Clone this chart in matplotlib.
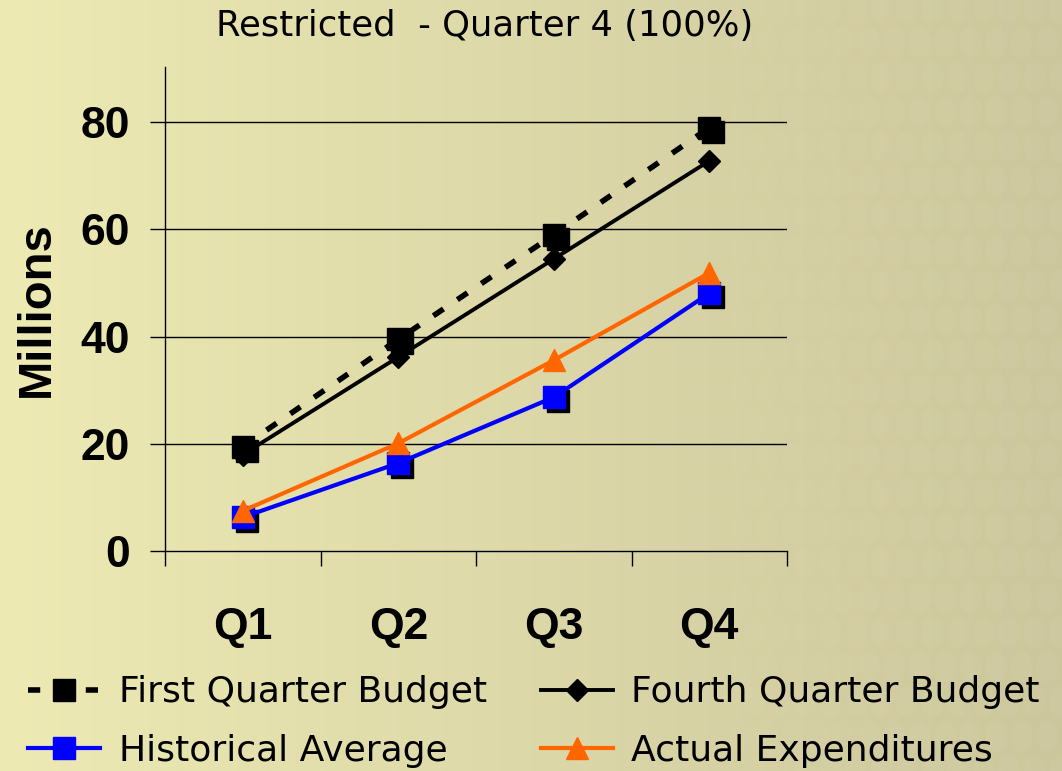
import numpy as np
import matplotlib
matplotlib.use("Agg")
import matplotlib.pyplot as plt
from matplotlib.transforms import offset_copy
from matplotlib.patches import Ellipse

quarters = ["Q1", "Q2", "Q3", "Q4"]
first_budget = [19.5, 39.5, 59.0, 79.0]
fourth_budget = [18.0, 36.2, 54.5, 72.8]
historical = [6.3, 16.4, 28.7, 48.1]
actual = [7.5, 20.1, 35.6, 51.9]
yticks = [0, 20, 40, 60, 80]

bold_font = ["Liberation Sans", "DejaVu Sans"]
plt.rcParams["font.family"] = ["DejaVu Sans"]

fig = plt.figure(figsize=(10.62, 7.71), dpi=100)

# background gradient with faint circle pattern
bg = fig.add_axes([0, 0, 1, 1], zorder=-10)
gx = np.linspace(0, 1, 400)
grad = np.tile(gx, (50, 1))
left = np.array([237, 234, 180]) / 255
right = np.array([204, 198, 156]) / 255
img = left[None, None, :] * (1 - grad[..., None]) + right[None, None, :] * grad[..., None]
bg.imshow(img, extent=[0, 1, 0, 1], aspect="auto")
for row in range(24):
    for col in range(30):
        cx = 0.35 + col * 0.024 + (row % 2) * 0.012
        cy = row * 0.045
        a = max(0.0, (cx - 0.45)) * 0.09
        if a > 0:
            bg.add_patch(Ellipse((cx, cy), 0.021, 0.04, color="white", alpha=a, lw=0))
bg.set_xlim(0, 1)
bg.set_ylim(0, 1)
bg.axis("off")

ax = fig.add_axes([0.1554, 0.2853, 0.5857, 0.6277])
ax.set_facecolor("none")
x = np.arange(len(quarters))

# shadows for square markers
shadow = offset_copy(ax.transData, fig=fig, x=4, y=-4, units="dots")
ax.plot(x, historical, ls="none", marker="s", ms=16, color="black",
        transform=shadow, zorder=2)
ax.plot(x, first_budget, ls="none", marker="s", ms=16, color="black",
        transform=shadow, zorder=2)

l1, = ax.plot(x, first_budget, color="black", lw=4, ls=(0, (2.2, 3.0)),
              marker="s", ms=16, label="First Quarter Budget", zorder=3)
l2, = ax.plot(x, fourth_budget, color="black", lw=2.8, marker="D", ms=11,
              label="Fourth Quarter Budget", zorder=3)
l3, = ax.plot(x, historical, color="#0000ff", lw=3, marker="s", ms=16,
              label="Historical Average", zorder=3)
l4, = ax.plot(x, actual, color="#ff6600", lw=3, marker="^", ms=16,
              label="Actual Expenditures", zorder=4)

ax.set_xlim(-0.5, 3.5)
ax.set_ylim(0, 90.3)
ax.set_yticks(yticks)
ax.set_yticklabels([str(v) for v in yticks], fontsize=32, fontweight="bold",
                   family=bold_font)
ax.tick_params(axis="y", length=11, width=1, pad=14)
for v in yticks[1:]:
    ax.axhline(v, color="black", lw=1, zorder=1)

ax.set_xticks(np.arange(-0.5, 4.0, 1.0))
ax.set_xticklabels([])
ax.set_xticks(x, minor=True)
ax.set_xticklabels(quarters, minor=True, fontsize=32, fontweight="bold",
                   family=bold_font)
ax.tick_params(axis="x", which="major", length=11, width=1)
ax.tick_params(axis="x", which="minor", length=0, pad=40)

for s in ["top", "right"]:
    ax.spines[s].set_visible(False)
ax.spines["left"].set_linewidth(1)
ax.spines["bottom"].set_linewidth(1)

ax.set_ylabel("Millions", fontsize=34, fontweight="bold", family=bold_font,
              labelpad=16)

fig.text(0.456, 0.966, "Restricted  - Quarter 4 (100%)", ha="center", va="center",
         fontsize=25.5)

fig.legend([l1, l3, l2, l4], [l.get_label() for l in (l1, l3, l2, l4)],
           loc="lower left", bbox_to_anchor=(-0.004, -0.038), ncol=2, frameon=False,
           prop={"size": 26}, handlelength=2.0, handletextpad=0.5,
           columnspacing=1.5, labelspacing=0.68)

fig.savefig("out.png", dpi=100)
